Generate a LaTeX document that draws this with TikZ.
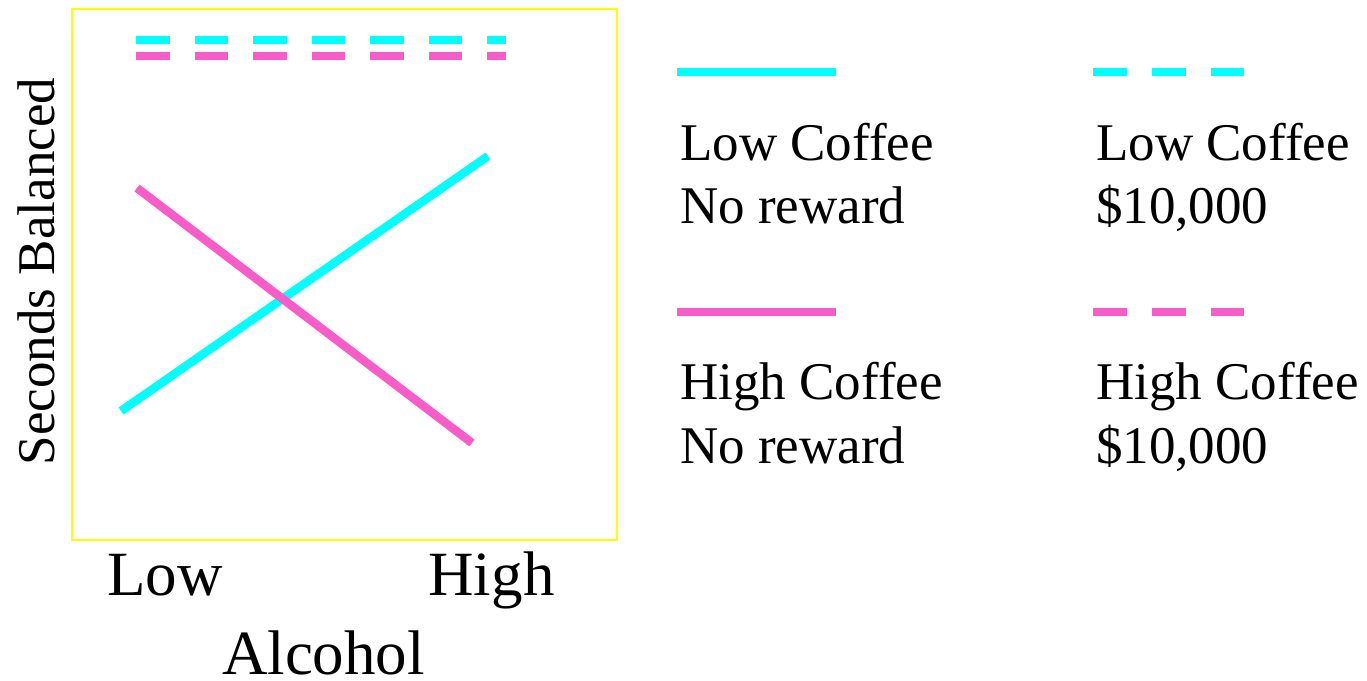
\documentclass[tikz,border=0pt]{standalone}
\usepackage{fontspec}
\setmainfont{Liberation Serif}
\definecolor{cy}{RGB}{0,255,255}
\definecolor{pk}{RGB}{248,92,200}
\definecolor{yl}{RGB}{255,255,0}
\begin{document}
\begin{tikzpicture}[x=1pt,y=-1pt,
  series/.style={line width=8.5pt,line cap=butt},
  dashser/.style={series,dash pattern=on 33.6pt off 24.9pt},
  legtext/.style={anchor=base west,inner sep=0pt,font=\fontsize{53}{64}\selectfont},
  axtext/.style={anchor=base,inner sep=0pt,font=\fontsize{63}{75}\selectfont}]
\useasboundingbox (0,0) rectangle (1367,680);
\fill[white] (0,0) rectangle (1367,680);
% frame
\node[draw=yl,line width=2pt,inner sep=0pt,minimum width=545pt,minimum height=531pt,anchor=north west] (frame) at (71,8) {};
% dashed series
\coordinate (cdA) at (136,40); \coordinate (cdB) at (506,40);
\coordinate (pdA) at (136,56); \coordinate (pdB) at (506,56);
\draw[dashser,cy] (cdA) -- (cdB);
\draw[dashser,pk] (pdA) -- (pdB);
% solid series
\coordinate (cL) at (121,411); \coordinate (cH) at (488,156);
\coordinate (pL) at (137,188); \coordinate (pH) at (472,443);
\draw[series,cy] (cL) -- (cH);
\draw[series,pk] (pL) -- (pH);
% axis labels
\node[axtext] (low) at (165,595) {Low};
\node[axtext] (high) at (491.5,595) {High};
\node[axtext] (alc) at (323.5,674) {Alcohol};
\node[legtext,anchor=base,rotate=90] (ylab) at (54,271.5) {Seconds Balanced};
% legend
\coordinate (l1a) at (677,72); \coordinate (l1b) at (836,72);
\coordinate (l2a) at (1093,72); \coordinate (l2b) at (1244,72);
\coordinate (l3a) at (677,312); \coordinate (l3b) at (836,312);
\coordinate (l4a) at (1093,312); \coordinate (l4b) at (1244,312);
\draw[series,cy] (l1a) -- (l1b);
\draw[dashser,cy,dash pattern=on 34pt off 25pt] (l2a) -- (l2b);
\draw[series,pk] (l3a) -- (l3b);
\draw[dashser,pk,dash pattern=on 34pt off 25pt] (l4a) -- (l4b);
\node[legtext] (t1a) at (680,160) {Low Coffee};
\node[legtext] (t1b) at (680,223) {No reward};
\node[legtext] (t2a) at (1096,160) {Low Coffee};
\node[legtext] (t2b) at (1096,223) {\$10,000};
\node[legtext] (t3a) at (680,399) {High Coffee};
\node[legtext] (t3b) at (680,463) {No reward};
\node[legtext] (t4a) at (1096,399) {High Coffee};
\node[legtext] (t4b) at (1096,463) {\$10,000};
\end{tikzpicture}
\end{document}
